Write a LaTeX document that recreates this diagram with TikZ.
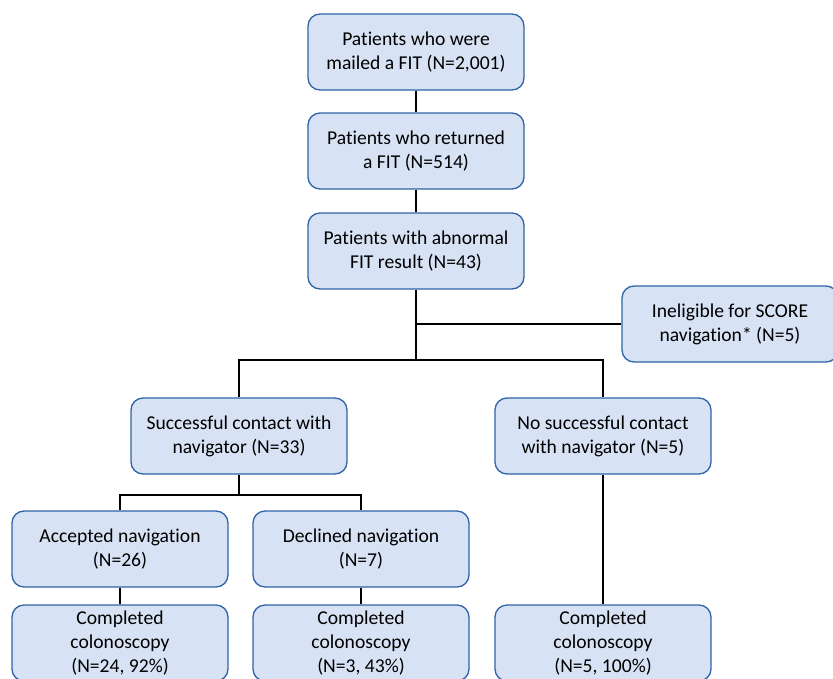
\documentclass[tikz,border=0pt]{standalone}
\usepackage{fontspec}
\setmainfont{Carlito}[Ligatures=NoCommon]
\definecolor{boxfill}{HTML}{D7E2F4}
\definecolor{boxline}{HTML}{2E64A8}

\begin{document}
\begin{tikzpicture}[x=1pt, y=-1pt,
    box/.style={draw=boxline, fill=boxfill, line width=1.3pt, rounded corners=12pt,
      minimum width=216pt, minimum height=76pt, inner sep=0pt, align=center,
      font=\fontsize{19.6}{24}\selectfont},
    link/.style={black, line width=1.1pt}]
  \useasboundingbox (0,0) rectangle (833,678);
  \clip (0,0) rectangle (833,678);

  \node[box] at (416,52) (mailed) {Patients who were\\mailed a FIT (N=2,001)};
  \node[box] at (416,151) (returned) {Patients who returned\\a FIT (N=514)};
  \node[box] at (416,251) (abnormal) {Patients with abnormal\\FIT result (N=43)};
  \node[box] at (730,324) (inelig) {Ineligible for SCORE\\navigation* (N=5)};

  \node[box] at (239,436) (contact) {Successful contact with\\navigator (N=33)};
  \node[box] at (603,436) (nocontact) {No successful contact\\with navigator (N=5)};

  \node[box] at (120,549) (accepted) {Accepted navigation\\(N=26)};
  \node[box] at (361,549) (declined) {Declined navigation\\(N=7)};

  \node[box] at (120,643) (done_acc) {Completed\\colonoscopy\\(N=24, 92\%)};
  \node[box] at (361,643) (done_dec) {Completed\\colonoscopy\\(N=3, 43\%)};
  \node[box] at (603,643) (done_no) {Completed\\colonoscopy\\(N=5, 100\%)};

  % --------------------------------------------------------------------------
  \coordinate (tee) at (416,324);
  \coordinate (split_top) at (416,360);
  \coordinate (split_low) at (239,495);

  \draw[link] (mailed) -- (returned);
  \draw[link] (returned) -- (abnormal);
  \draw[link] (abnormal.south) -- (split_top);
  \draw[link] (tee) -- (inelig.west);
  \draw[link] (contact.north) |- (split_top) -| (nocontact.north);

  \draw[link] (contact.south) -- (split_low);
  \draw[link] (accepted.north) |- (split_low) -| (declined.north);

  \draw[link] (accepted) -- (done_acc);
  \draw[link] (declined) -- (done_dec);
  \draw[link] (nocontact) -- (done_no);
\end{tikzpicture}
\end{document}
